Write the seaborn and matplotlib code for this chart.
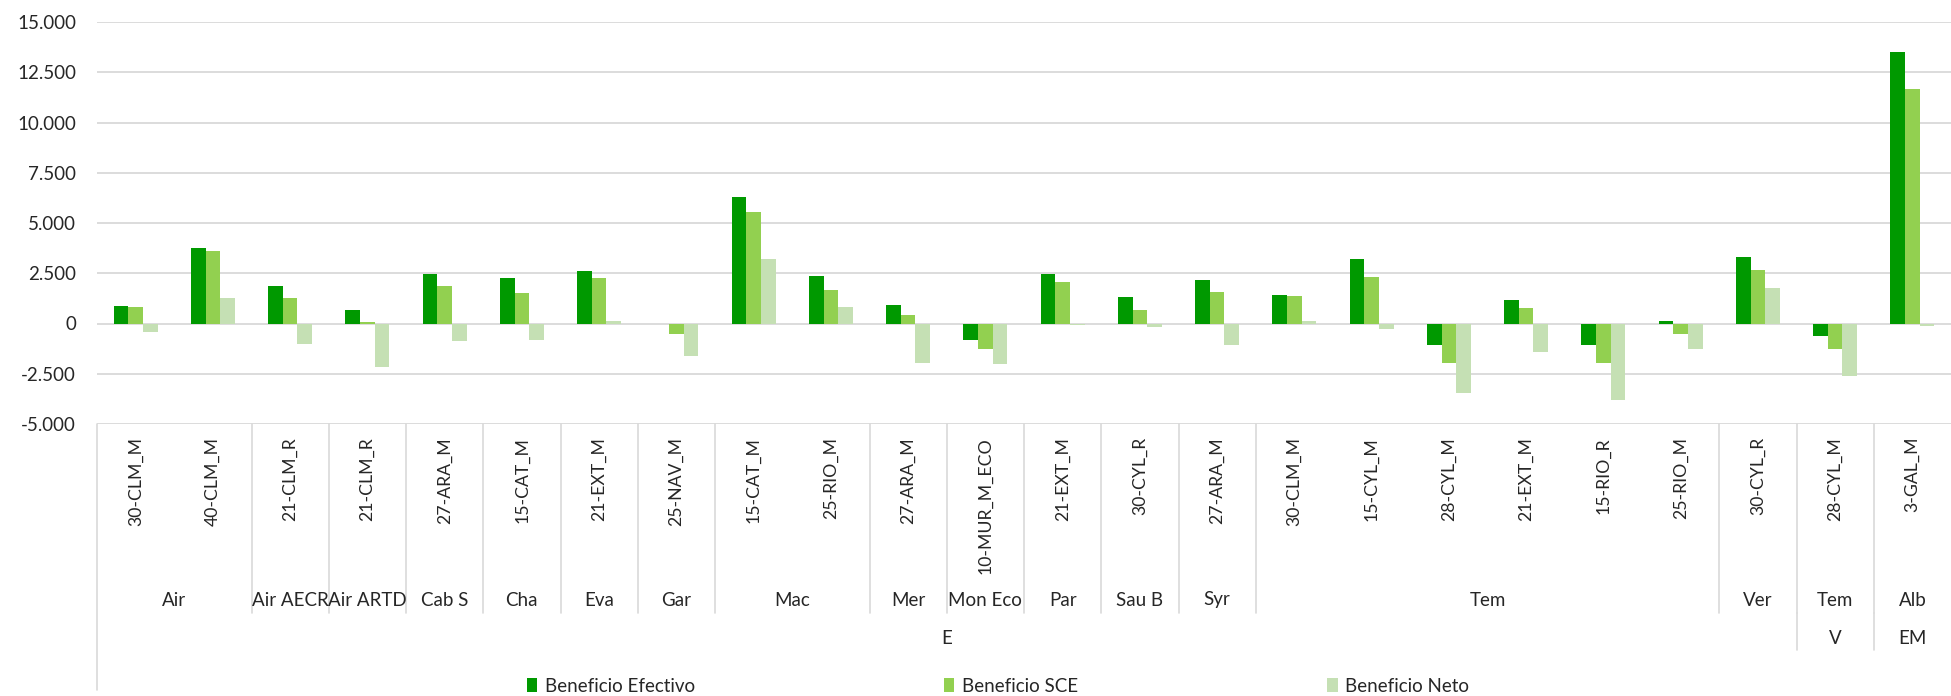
import pandas as pd
import matplotlib.pyplot as plt
import matplotlib.transforms as mtransforms
from matplotlib.lines import Line2D
from matplotlib.patches import Patch
import seaborn as sns

# Values
categorias = ['30-CLM_M', '40-CLM_M', '21-CLM_R', '21-CLM_R', '27-ARA_M', '15-CAT_M',
              '21-EXT_M', '25-NAV_M', '15-CAT_M', '25-RIO_M', '27-ARA_M', '10-MUR_M_ECO',
              '21-EXT_M', '30-CYL_R', '27-ARA_M', '30-CLM_M', '15-CYL_M', '28-CYL_M',
              '21-EXT_M', '15-RIO_R', '25-RIO_M', '30-CYL_R', '28-CYL_M', '3-GAL_M']
efectivo = [890, 3775, 1880, 680, 2480, 2245, 2630, 0, 6300, 2360, 915, -810,
            2445, 1330, 2145, 1430, 3225, -1065, 1165, -1065, 100, 3325, -615, 13500]
sce = [800, 3625, 1250, 50, 1845, 1500, 2245, -500, 5570, 1645, 430, -1265,
       2060, 680, 1545, 1365, 2295, -1980, 750, -1945, -500, 2660, -1280, 11675]
neto = [-425, 1250, -1015, -2180, -850, -800, 100, -1600, 3195, 800, -1945, -2030,
        -80, -150, -1080, 135, -285, -3475, -1430, -3810, -1245, 1765, -2630, -140]

grupos = ['Air', 'Air AECR', 'Air ARTD', 'Cab S', 'Cha', 'Eva', 'Gar', 'Mac', 'Mer',
          'Mon Eco', 'Par', 'Sau B', 'Syr', 'Tem', 'Ver', 'Tem', 'Alb']
grupos_n = [2, 1, 1, 1, 1, 1, 1, 2, 1, 1, 1, 1, 1, 6, 1, 1, 1]
tipos = ['E', 'V', 'EM']
tipos_n = [22, 1, 1]

series = ['Beneficio Efectivo', 'Beneficio SCE', 'Beneficio Neto']
colores = ['#009900', '#92D050', '#C5E0B4']

df = pd.DataFrame({
    'pos': list(range(len(categorias))) * 3,
    'valor': efectivo + sce + neto,
    'serie': [s for s in series for _ in categorias],
})

W, H = 1951, 696
sns.set_theme(style='white')
plt.rcParams['font.family'] = ['Lato', 'DejaVu Sans']
fig = plt.figure(figsize=(W / 100, H / 100), dpi=100)
ax = fig.add_axes([97 / W, 1 - 424 / H, 1 - 97 / W, (424 - 22) / H])

sns.barplot(data=df, x='pos', y='valor', hue='serie', hue_order=series,
            palette=colores, saturation=1, width=0.57, linewidth=0,
            legend=False, ax=ax)

ax.set_ylim(-5000, 15000)
ax.set_xlim(-0.5, len(categorias) - 0.5)
ticks = list(range(-5000, 15001, 2500))
ax.set_yticks(ticks)
ax.set_yticklabels([f'{t:,}'.replace(',', '.') for t in ticks], fontsize=13.5, color='#262626')
ax.tick_params(axis='y', length=0, pad=15)
ax.set_xticks([])
ax.set_xlabel('')
ax.set_ylabel('')
ax.yaxis.grid(True, color='#D9D9D9', linewidth=1.3)
ax.set_axisbelow(True)
for s in ax.spines.values():
    s.set_visible(False)

# multi-level category axis
tr = mtransforms.blended_transform_factory(ax.transData, fig.transFigure)
fy = lambda ypx: 1 - ypx / H
gris = '#D9D9D9'

for i, c in enumerate(categorias):
    ax.text(i, fy(437), c, rotation=90, ha='center', va='top', fontsize=12.7,
            color='#262626', transform=tr)

inicio = 0
for g, n in zip(grupos, grupos_n):
    ax.text(inicio + n / 2 - 0.5, fy(600), g, ha='center', va='center', fontsize=13.5,
            color='#262626', transform=tr)
    inicio += n
    if inicio < len(categorias):
        ax.add_line(Line2D([inicio - 0.5] * 2, [fy(424), fy(613)], color=gris, lw=1.2,
                           transform=tr, clip_on=False))

inicio = 0
for t, n in zip(tipos, tipos_n):
    ax.text(inicio + n / 2 - 0.5, fy(638), t, ha='center', va='center', fontsize=13.5,
            color='#262626', transform=tr)
    inicio += n
    if inicio < len(categorias):
        ax.add_line(Line2D([inicio - 0.5] * 2, [fy(613), fy(650)], color=gris, lw=1.2,
                           transform=tr, clip_on=False))

ax.add_line(Line2D([-0.5, -0.5], [fy(424), fy(690)], color=gris, lw=1.2,
                   transform=tr, clip_on=False))

handles = [Patch(facecolor=c, edgecolor='none') for c in colores]
fig.legend(handles, series, ncol=3, loc='center', bbox_to_anchor=(998 / W, fy(686)),
           frameon=False, fontsize=13.5, handlelength=0.55, handleheight=0.7,
           handletextpad=0.4, columnspacing=13.3, borderpad=0)

fig.savefig('out.png', dpi=100)
plt.close()
